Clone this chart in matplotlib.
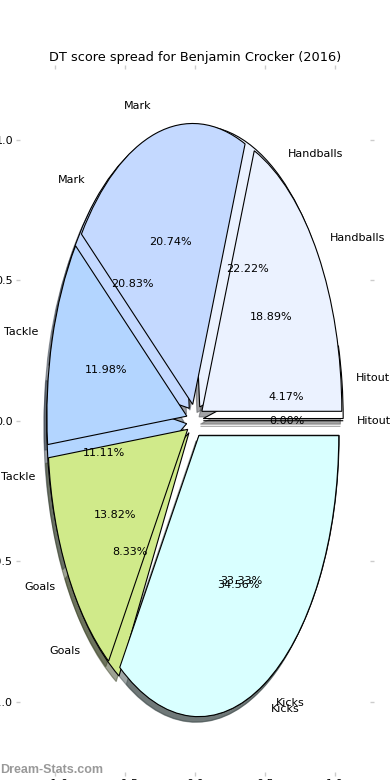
import matplotlib
matplotlib.use('Agg')
import matplotlib.pyplot as plt

# DT score components, 2016 season vs. comparison spread
categories = ['Hitout', 'Handballs', 'Mark', 'Tackle', 'Goals', 'Kicks']
season_points = [0, 41, 45, 26, 30, 75]
reference_points = [3, 16, 15, 8, 6, 24]
wedge_colors = ['#FFFFFF', '#EBF2FF', '#C4D9FF', '#B3D5FF', '#D0EA8A', '#D9FFFF']

fig = plt.figure(figsize=(3.9, 7.8), dpi=100)
ax = fig.add_axes([0.0513, 0.0103, 0.897, 0.9006])

explode = [0.06] * len(categories)
shadow = {'ox': -0.0144, 'oy': -0.0144}
wedgeprops = {'edgecolor': 'black', 'linewidth': 0.8}

# comparison pie first, the season pie is drawn on top of it
for values in (reference_points, season_points):
    ax.pie(values, labels=categories, colors=wedge_colors, explode=explode,
           autopct='%.2f%%', shadow=shadow, startangle=0, frame=True,
           wedgeprops=wedgeprops, textprops={'fontsize': 8})

ax.set_aspect('auto')
ax.set_xlim(-1.25, 1.25)
ax.set_ylim(-1.25, 1.25)
ax.set_xticks([-1.0, -0.5, 0.0, 0.5, 1.0])
ax.set_yticks([-1.0, -0.5, 0.0, 0.5, 1.0])
for s in ax.spines.values():
    s.set_visible(False)
ax.tick_params(axis='both', which='both', direction='out', length=3, width=1,
               color='#cccccc', labelsize=8, pad=2,
               top=True, right=True, labeltop=False, labelright=False)

ax.set_title('DT score spread for Benjamin Crocker (2016)', fontsize=9.3)

# watermark
fig.text(0.0, 0.0085, 'Dream-Stats.com', fontsize=9, fontweight='bold',
         family='Liberation Sans', color='#999999', ha='left', va='baseline',
         zorder=0)

fig.savefig('out.png', dpi=100)
